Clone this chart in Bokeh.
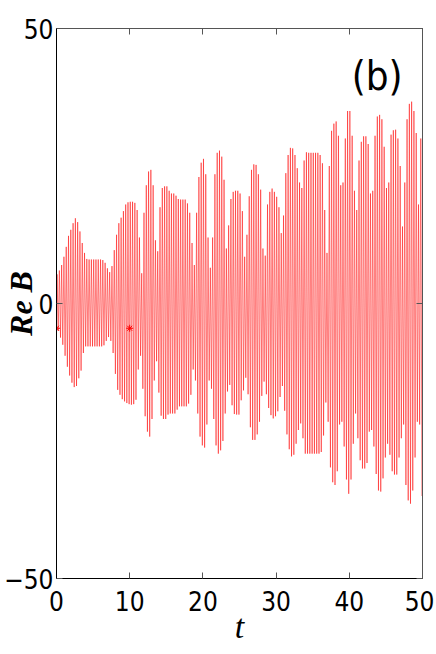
import numpy as np
from bokeh.plotting import figure
from bokeh.models import LinearAxis, FixedTicker, Range1d, Label
from bokeh.embed import file_html
from bokeh.resources import INLINE

# ---- data ----
x_ticks = [0, 10, 20, 30, 40, 50]
y_ticks = [-50, 0, 50]
period = 0.3125          # oscillation period (t units)
n_cycles = 160

# value of each successive maximum of Re B (one per cycle)
upper = [5.3, 6.0, 7.0, 8.5, 10.3, 12.3, 13.4, 14.6, 15.5, 14.8,
         13.1, 11.0, 9.2, 8.1, 8.0, 8.0, 8.0, 8.0, 8.0, 8.0,
         7.9, 7.4, 6.4, 5.7, 6.8, 9.7, 12.5, 14.6, 15.6, 16.8,
         18.0, 18.4, 18.5, 18.5, 18.3, 17.0, 12.0, 5.5, 16.5, 21.5,
         24.0, 24.3, 21.5, 11.5, 9.5, 17.5, 21.0, 21.3, 21.3, 20.5,
         20.0, 20.0, 19.6, 19.0, 18.9, 18.9, 18.9, 18.2, 16.5, 11.0,
         7.0, 16.5, 23.0, 25.6, 26.3, 23.5, 12.0, 6.5, 12.0, 23.5,
         27.4, 27.8, 26.7, 22.5, 10.0, 14.2, 19.0, 20.3, 20.5, 20.5,
         20.0, 16.8, 8.5, 12.5, 19.5, 24.3, 25.3, 25.2, 23.5, 20.7,
         10.0, 8.7, 18.0, 20.3, 20.9, 20.3, 19.4, 17.5, 12.8, 16.0,
         23.7, 27.0, 28.3, 28.2, 27.0, 24.6, 22.0, 21.0, 26.0, 27.5,
         27.4, 27.4, 27.4, 27.4, 27.4, 27.0, 25.5, 17.0, 9.2, 25.0,
         31.4, 32.7, 33.1, 30.5, 21.5, 22.0, 30.0, 35.0, 35.0, 30.5,
         20.5, 17.0, 26.0, 29.4, 30.4, 30.4, 29.0, 20.0, 20.5, 30.5,
         34.0, 34.3, 33.5, 28.5, 21.0, 22.0, 30.7, 31.5, 31.6, 30.0,
         25.0, 14.0, 22.0, 33.5, 36.3, 36.7, 35.0, 31.0, 18.0, 30.0]

# value of each successive minimum of Re B (one per cycle)
lower = [-5.0, -6.2, -7.5, -9.5, -11.5, -13.1, -14.4, -15.2, -15.0, -13.6,
         -12.2, -9.0, -7.8, -7.8, -7.8, -7.8, -7.8, -7.8, -7.8, -7.8,
         -7.6, -6.8, -6.1, -6.8, -9.0, -12.8, -15.7, -16.6, -17.4, -17.8,
         -18.1, -18.3, -18.4, -18.3, -17.5, -12.0, -9.5, -15.5, -20.5, -23.3,
         -24.2, -21.0, -14.0, -10.5, -16.2, -20.4, -21.0, -21.0, -20.2, -20.0,
         -20.0, -20.0, -19.3, -18.7, -18.7, -18.7, -18.7, -18.2, -16.6, -12.0,
         -14.0, -20.0, -24.2, -25.8, -26.2, -22.0, -14.0, -15.5, -21.0, -25.8,
         -27.3, -26.7, -25.0, -20.0, -16.0, -14.8, -18.5, -20.1, -20.2, -20.2,
         -17.6, -15.8, -13.5, -16.5, -22.5, -24.8, -24.8, -23.8, -21.5, -16.8,
         -14.2, -16.5, -19.0, -20.3, -20.9, -20.5, -19.6, -17.0, -15.0, -19.5,
         -23.8, -26.5, -27.8, -27.5, -25.5, -23.0, -21.8, -24.5, -27.3, -27.3,
         -27.3, -27.3, -27.3, -27.3, -27.3, -27.0, -24.0, -18.0, -21.5, -29.8,
         -32.5, -33.0, -30.5, -22.0, -21.5, -26.0, -32.0, -34.6, -32.0, -25.5,
         -20.0, -24.5, -28.5, -30.0, -30.0, -29.0, -23.3, -23.0, -26.0, -31.0,
         -34.0, -34.2, -31.8, -28.0, -25.5, -27.5, -30.5, -31.1, -31.1, -28.0,
         -24.5, -22.0, -33.0, -35.8, -36.4, -34.0, -28.0, -21.5, -22.0, -35.0]

start_t, start_v = 0.0, -4.5
star_t = [0, 10]
star_v = [-4.5, -4.5]

# ---- build the curve: start point, then max / min of every cycle ----
k = np.arange(n_cycles)
t_max = k * period + 0.25 * period
t_min = k * period + 0.75 * period
ts = np.empty(2 * n_cycles)
vs = np.empty(2 * n_cycles)
ts[0::2], ts[1::2] = t_max, t_min
vs[0::2], vs[1::2] = upper, lower
ts = np.concatenate([[start_t], ts])
vs = np.concatenate([[start_v], vs])

tick_font = "'Liberation Sans Narrow', 'DejaVu Sans Condensed', 'Liberation Sans', sans-serif"
serif_font = "'Liberation Serif', 'DejaVu Serif', serif"

p = figure(frame_width=366, frame_height=550, output_backend="svg", toolbar_location=None,
           x_range=Range1d(0, 50), y_range=Range1d(-50, 50),
           min_border_left=48, min_border_right=12, min_border_top=28,
           min_border_bottom=70)
p.grid.visible = False
p.background_fill_color = "white"
p.border_fill_color = "white"
p.outline_line_color = "#555555"
p.outline_line_width = 1

p.line(ts, vs, line_color="#ff0000", line_width=0.5)
p.scatter(star_t, star_v, marker="asterisk", size=7, line_color="#ff0000", line_width=1)

for ax in (p.xaxis[0], p.yaxis[0]):
    ax.major_tick_in = 6
    ax.major_tick_out = 0
    ax.minor_tick_line_color = None
    ax.axis_line_color = "black"
    ax.major_tick_line_color = "#555555"
    ax.major_label_text_font = tick_font
    ax.major_label_text_font_size = "26px"
    ax.major_label_text_color = "black"
    ax.axis_label_text_font = serif_font
    ax.axis_label_text_color = "black"
p.xaxis[0].ticker = FixedTicker(ticks=x_ticks)
p.yaxis[0].ticker = FixedTicker(ticks=y_ticks)
p.xaxis[0].major_label_standoff = 12
p.yaxis[0].major_label_standoff = 3

p.yaxis[0].axis_label = "Re B"
p.yaxis[0].axis_label_text_font_style = "bold italic"
p.yaxis[0].axis_label_text_font_size = "32px"
p.yaxis[0].axis_label_standoff = -38

p.xaxis[0].axis_label = "t"
p.xaxis[0].axis_label_text_font_style = "italic"
p.xaxis[0].axis_label_text_font_size = "34px"
p.xaxis[0].axis_label_standoff = -6

top = LinearAxis(ticker=FixedTicker(ticks=x_ticks), major_tick_in=6, major_tick_out=0,
                 minor_tick_line_color=None, major_label_text_color=None,
                 major_label_text_font_size="1px", major_label_standoff=0,
                 axis_line_color="#555555", major_tick_line_color="#555555")
right = LinearAxis(ticker=FixedTicker(ticks=y_ticks), major_tick_in=6, major_tick_out=0,
                   minor_tick_line_color=None, major_label_text_color=None,
                   major_label_text_font_size="1px", major_label_standoff=0,
                   axis_line_color="#555555", major_tick_line_color="#555555")
p.add_layout(top, "above")
p.add_layout(right, "right")

p.add_layout(Label(x=43.8, y=41.3, text="(b)", text_align="center", text_baseline="middle",
                   text_font=tick_font, text_font_size="40px", text_color="black"))

open("out.html", "w").write(file_html(p, INLINE))
